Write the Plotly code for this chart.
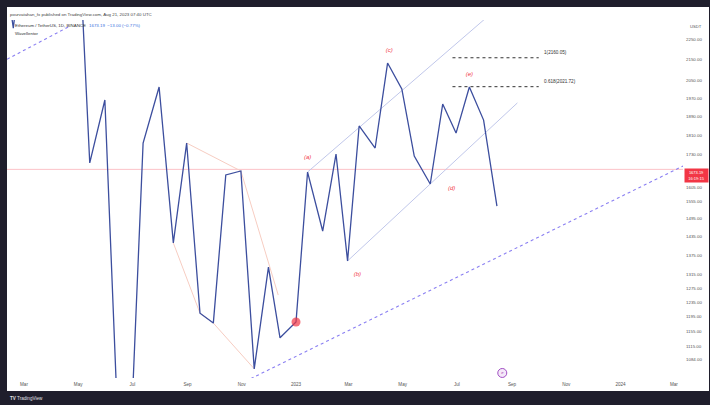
import math
import plotly.graph_objects as go

# ---------------- data ----------------
line_dates = ["2022-02-11", "2022-02-17", "2022-02-22", "2022-05-02", "2022-05-14", "2022-05-31",
              "2022-06-22", "2022-07-13", "2022-07-31", "2022-08-16", "2022-08-31", "2022-09-15",
              "2022-09-30", "2022-10-14", "2022-10-31", "2022-11-15", "2022-12-01", "2022-12-14",
              "2023-01-01", "2023-01-14", "2023-01-31", "2023-02-15", "2023-02-28", "2023-03-13",
              "2023-03-31", "2023-04-14", "2023-04-30", "2023-05-14", "2023-06-01", "2023-06-15",
              "2023-06-30", "2023-07-15", "2023-07-31", "2023-08-15"]
line_prices = [2520, 2312, 2520, 2828, 1698, 1961,
               639, 1777, 2020, 1414, 1777, 1204,
               1177, 1652, 1667, 1060, 1338, 1138,
               1180, 1663, 1453, 1733, 1357, 1848,
               1757, 2134, 2011, 1725, 1618, 1943,
               1818, 2020, 1873, 1538]

last_price = 1673.19
price_change = "−13.00 (−0.77%)"
countdown = "16:19:15"

dot_date, dot_price = "2023-01-01", 1180

wave_labels = ["(a)", "(b)", "(c)", "(d)", "(e)"]
wave_dates = ["2023-01-14", "2023-03-11", "2023-04-16", "2023-06-25", "2023-07-15"]
wave_prices = [1721, 1314, 2194, 1600, 2081]

channel_up_dates = ["2023-01-14", "2023-08-08"]
channel_up_prices = [1663, 2388]
channel_lo_dates = ["2023-02-28", "2023-09-07"]
channel_lo_prices = [1357, 1948]

wedge_up_dates = ["2022-08-31", "2022-10-31", "2022-12-12"]
wedge_up_prices = [1777, 1667, 1255]
wedge_lo_dates = ["2022-08-16", "2022-09-15", "2022-09-30", "2022-11-15"]
wedge_lo_prices = [1414, 1204, 1177, 1060]

trend_lo_dates = ["2022-10-30", "2024-03-19"]
trend_lo_prices = [1024, 1699]
trend_up_dates = ["2022-02-04", "2022-04-22"]
trend_up_prices = [2139, 2323]

fib_levels = [2160.05, 2021.72]
fib_texts = ["1(2160.05)", "0.618(2021.72)"]
fib_start, fib_end = "2023-06-26", "2023-10-01"
fib_label_date = "2023-10-07"
fib_label_prices = [2184, 2044]

event_date, event_price = "2023-08-21", 1050

y_ticks = [2250, 2150, 2050, 1970, 1890, 1810, 1730, 1605, 1555, 1495, 1435, 1375,
           1315, 1275, 1235, 1195, 1155, 1115, 1084]
x_tick_dates = ["2022-03-01", "2022-05-01", "2022-07-01", "2022-09-01", "2022-11-01", "2023-01-01",
                "2023-03-01", "2023-05-01", "2023-07-01", "2023-09-01", "2023-11-01", "2024-01-01",
                "2024-03-01"]
x_tick_text = ["Mar", "May", "Jul", "Sep", "Nov", "2023", "Mar", "May", "Jul", "Sep", "Nov", "2024", "Mar"]

x_range = ["2022-02-09 22:00", "2024-03-11 07:00"]
y_range = [1038, 2355]

# ---------------- layout helpers ----------------
W, H = 710, 405
ML, MR, MT, MB = 7, 27, 20, 27
PW, PH = W - ML - MR, H - MT - MB


def px(x):
    return (x - ML) / PW


def py(y):
    return 1 - (y - MT) / PH


FONT = "Liberation Sans, Arial, sans-serif"
BLUE = "#3c4e9e"

fig = go.Figure()

# current price line
fig.add_trace(go.Scatter(x=x_range, y=[last_price, last_price], mode="lines",
                         line=dict(color="rgba(242,54,69,0.3)", width=1), hoverinfo="skip"))
# dotted trend lines
for xs, ys in [(trend_lo_dates, trend_lo_prices), (trend_up_dates, trend_up_prices)]:
    fig.add_trace(go.Scatter(x=xs, y=ys, mode="lines",
                             line=dict(color="#8a7ff2", width=1.1, dash="dot"), hoverinfo="skip"))
# wedge
for xs, ys in [(wedge_up_dates, wedge_up_prices), (wedge_lo_dates, wedge_lo_prices)]:
    fig.add_trace(go.Scatter(x=xs, y=ys, mode="lines",
                             line=dict(color="#f7cdc2", width=1), hoverinfo="skip"))
# channel
for xs, ys in [(channel_up_dates, channel_up_prices), (channel_lo_dates, channel_lo_prices)]:
    fig.add_trace(go.Scatter(x=xs, y=ys, mode="lines",
                             line=dict(color="#c0c7ea", width=1), hoverinfo="skip"))
# fib levels
for lvl in fib_levels:
    fig.add_trace(go.Scatter(x=[fib_start, fib_end], y=[lvl, lvl], mode="lines",
                             line=dict(color="#333333", width=1, dash="dot"), hoverinfo="skip"))
fig.add_trace(go.Scatter(x=[fib_label_date] * len(fib_texts), y=fib_label_prices, mode="text",
                         text=fib_texts, textposition="middle right",
                         textfont=dict(size=4.6, color="#333333", family=FONT), hoverinfo="skip"))
# main line
fig.add_trace(go.Scatter(x=line_dates, y=line_prices, mode="lines",
                         line=dict(color=BLUE, width=1.3), hoverinfo="skip"))
# red dot
fig.add_trace(go.Scatter(x=[dot_date], y=[dot_price], mode="markers",
                         marker=dict(size=9, color="rgba(242,54,69,0.7)", line=dict(width=0)),
                         hoverinfo="skip"))
# wave labels
fig.add_trace(go.Scatter(x=wave_dates, y=wave_prices, mode="text",
                         text=["<i>" + t + "</i>" for t in wave_labels],
                         textfont=dict(size=6, color="#f23645", family=FONT), hoverinfo="skip"))
# event marker
fig.add_trace(go.Scatter(x=[event_date], y=[event_price], mode="markers+text",
                         text=["<i>e</i>"], textposition="middle center",
                         textfont=dict(size=4, color="#9c27b0", family=FONT),
                         marker=dict(size=9, color="#f4e8f8", line=dict(color="#a14fc4", width=1)),
                         hoverinfo="skip"))

shapes = [
    dict(type="rect", xref="paper", yref="paper", x0=px(7), x1=px(709), y0=py(391), y1=py(7),
         fillcolor="white", line=dict(width=0), layer="below"),
]

annotations = [
    dict(xref="paper", yref="paper", x=px(8), y=py(14), xanchor="left", yanchor="middle",
         text="pourvatahan_fx published on TradingView.com, Aug 21, 2023 07:40 UTC",
         showarrow=False, font=dict(size=4.4, color="#444444", family=FONT)),
    dict(xref="paper", yref="paper", x=px(13), y=py(25), xanchor="left", yanchor="middle",
         text="Ethereum / TetherUS, 1D, BINANCE", showarrow=False,
         font=dict(size=4.4, color="#333333", family=FONT)),
    dict(xref="paper", yref="paper", x=px(87), y=py(25), xanchor="left", yanchor="middle",
         text=f"{last_price:.2f}  {price_change}", showarrow=False,
         font=dict(size=4.4, color="#3b6fe0", family=FONT)),
    dict(xref="paper", yref="paper", x=px(13), y=py(33), xanchor="left", yanchor="middle",
         text="Wavellentor", showarrow=False, font=dict(size=4.4, color="#333333", family=FONT)),
    dict(xref="paper", yref="paper", x=px(696), y=py(26), xanchor="center", yanchor="middle",
         text="USDT", showarrow=False, font=dict(size=4.2, color="#555555", family=FONT)),
    dict(xref="paper", yref="paper", x=px(696.5), y=py(175), xanchor="center", yanchor="middle",
         text=f"{last_price:.2f}<br>{countdown}", showarrow=False, bgcolor="#f23645",
         width=21, height=11, borderpad=1, align="center",
         font=dict(size=4, color="white", family=FONT)),
    dict(xref="paper", yref="paper", x=px(8), y=py(398), xanchor="left", yanchor="middle",
         text="<b>TV</b> TradingView", showarrow=False,
         font=dict(size=4.6, color="#e0e0e6", family=FONT)),
]

fig.update_layout(
    width=W, height=H,
    margin=dict(l=ML, r=MR, t=MT, b=MB, pad=0),
    paper_bgcolor="#1f1e2c", plot_bgcolor="white",
    showlegend=False,
    shapes=shapes, annotations=annotations,
    font=dict(family=FONT),
    xaxis=dict(type="date", range=x_range, tickvals=x_tick_dates, ticktext=x_tick_text,
               showgrid=False, zeroline=False, showline=False, ticks="",
               ticklabelstandoff=2,
               tickfont=dict(size=4.6, color="#555555", family=FONT), fixedrange=True),
    yaxis=dict(type="log", side="right", range=[math.log10(v) for v in y_range],
               tickvals=y_ticks, ticktext=[f"{v:.2f}" for v in y_ticks],
               showgrid=False, zeroline=False, showline=False, ticks="",
               ticklabelstandoff=2,
               tickfont=dict(size=4.4, color="#555555", family=FONT), fixedrange=True),
)

fig.write_html(
    "out.html",
    config={"displayModeBar": False, "staticPlot": True},
    post_script="document.body.style.margin='0';document.body.style.padding='0';"
                "document.body.style.background='#1f1e2c';document.body.style.overflow='hidden';",
)
